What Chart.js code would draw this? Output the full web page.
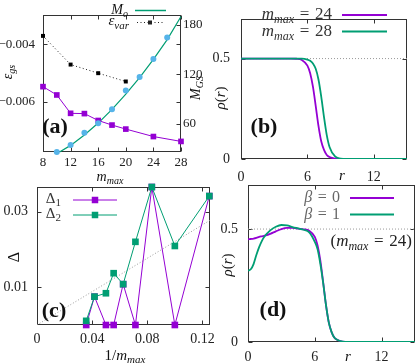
<!DOCTYPE html>
<html>
<head>
<meta charset="utf-8">
<script src="https://cdn.jsdelivr.net/npm/chart.js@4.4.0/dist/chart.umd.min.js"></script>
<style>
html, body { margin: 0; padding: 0; background: #fff; }
#wrap { position: relative; width: 415px; height: 364px; overflow: hidden; }
#wrap canvas { position: absolute; left: 0; top: 0; }
</style>
</head>
<body>
<div id="wrap">
<canvas id="ca" width="415" height="364"></canvas>
<canvas id="cb" width="415" height="364"></canvas>
<canvas id="cc" width="415" height="364"></canvas>
<canvas id="cd" width="415" height="364"></canvas>
</div>
<script>
// (a) energies and particle number vs m_max
var mA = [8, 10, 12, 14, 16, 18, 20, 24, 28];
var epsGs = [-0.00548, -0.00577, -0.00641, -0.00642, -0.00666, -0.00682, -0.00696, -0.00722, -0.00739];
var mVar = [8, 12, 16, 20];
var epsVar = [-0.00371, -0.00471, -0.00501, -0.0053];
var mGS = [10, 12, 14, 16, 18, 20, 22, 24, 26];
var MGS = [26, 34.4, 49.2, 60.8, 77.8, 100.5, 116.8, 138.5, 164.5];
var mFit = [10.4, 12, 14, 16, 18, 20, 22, 24, 26, 28];
var MoFit = [26, 34, 46.5, 61, 77.5, 96, 116, 138, 162, 190];
var ticksMA = [8, 12, 16, 20, 24, 28];
var ticksEps = [-0.004, -0.006];
var labelsEps = ['\u22120.004', '\u22120.006'];
var ticksM = [60, 120, 180];

// (b) density profiles
var rB = [0, 1, 2, 3, 4, 4.5, 5, 5.5, 6, 6.25, 6.5, 6.75, 7, 7.25, 7.5, 7.75, 8, 8.5, 9, 9.5, 10, 11, 12, 13, 14, 15];
var rho24 = [0.5, 0.5, 0.5, 0.5, 0.5, 0.5, 0.499, 0.493, 0.465, 0.427, 0.36, 0.265, 0.165, 0.088, 0.045, 0.02, 0.01, 0.002, 0, 0, 0, 0, 0, 0, 0, 0];
var rho28 = [0.5, 0.5, 0.5, 0.5, 0.5, 0.5, 0.5, 0.5, 0.495, 0.489, 0.476, 0.449, 0.396, 0.311, 0.209, 0.119, 0.06, 0.0125, 0.0024, 0, 0, 0, 0, 0, 0, 0];
var ticksR = [0, 6, 12];
var ticksRho = [0, 0.5];

// (c) gaps vs 1/m_max
var invM = [0.0357, 0.0417, 0.05, 0.0556, 0.0625, 0.0714, 0.0833, 0.1, 0.125];
var delta1 = [0, 0.0075, 0, 0, 0.0108, 0, 0.0365, 0, 0.0341];
var delta2 = [0.0011, 0.0075, 0.0084, 0.0137, 0.0108, 0.022, 0.0365, 0.0209, 0.0341];
var guideX = [0, 0.1255];
var guideY = [0, 0.0277];
var ticksInv = [0, 0.04, 0.08, 0.12];
var ticksDelta = [0.01, 0.03];

// (d) density profiles for beta = 0, 1
var rD = [0, 0.25, 0.5, 0.75, 1, 1.25, 1.5, 2, 2.5, 3, 3.5, 4, 4.5, 5, 5.5, 6, 6.25, 6.5, 6.75, 7, 7.25, 7.5, 7.75, 8, 8.5, 9, 10, 12, 15];
var rhoBeta0 = [0.454, 0.456, 0.458, 0.461, 0.465, 0.468, 0.471, 0.479, 0.49, 0.5, 0.505, 0.505, 0.502, 0.499, 0.492, 0.465, 0.427, 0.36, 0.265, 0.165, 0.088, 0.045, 0.02, 0.01, 0.002, 0, 0, 0, 0];
var rhoBeta1 = [0.315, 0.322, 0.345, 0.385, 0.42, 0.448, 0.468, 0.494, 0.51, 0.518, 0.516, 0.509, 0.503, 0.497, 0.485, 0.443, 0.41, 0.345, 0.262, 0.165, 0.088, 0.045, 0.02, 0.01, 0.002, 0, 0, 0, 0];

var PURPLE = '#9400d3', GREEN = '#009e73', CYAN = '#56b4e9';
var SERIF = '"Liberation Serif", "DejaVu Serif", serif';
var EQ = '\u2004=\u2004';

function pts(xs, ys) {
	return xs.map(function (x, i) { return { x: x, y: ys[i] }; });
}

function axis(pos, min, max, size, vals, labels, pad, fs) {
	return {
		type: 'linear', position: pos, min: min, max: max,
		grid: { display: false, drawTicks: false },
		border: { display: false },
		afterFit: function (s) { if (s.isHorizontal()) s.height = size; else s.width = size; },
		afterBuildTicks: function (s) { s.ticks = vals.map(function (v) { return { value: v }; }); },
		ticks: {
			autoSkip: false, padding: pad, color: '#222', maxRotation: 0,
			font: { family: SERIF, size: fs || 14 },
			callback: function (v, i) { return labels[i]; }
		}
	};
}

function fontFor(kind, size) {
	var sub = kind.charAt(0) === 's';
	var sz = sub ? Math.round(size * 0.7) : size;
	var st = (kind === 'i' || kind === 's') ? 'italic ' : (kind === 'b' ? 'bold ' : '');
	return st + sz + 'px ' + SERIF;
}

function drawMath(ctx, t) {
	var size = t.size || 14;
	ctx.save();
	ctx.translate(t.x, t.y);
	if (t.rot) ctx.rotate(t.rot);
	var w = 0;
	t.parts.forEach(function (p) { ctx.font = fontFor(p[1], size); w += ctx.measureText(p[0]).width; });
	var x = t.align === 'left' ? 0 : (t.align === 'right' ? -w : -w / 2);
	ctx.textBaseline = 'middle';
	ctx.textAlign = 'left';
	ctx.fillStyle = t.color || '#111';
	t.parts.forEach(function (p) {
		ctx.font = fontFor(p[1], size);
		var dy = p[1].charAt(0) === 's' ? size * 0.3 : 0;
		ctx.fillText(p[0], x, dy);
		x += ctx.measureText(p[0]).width;
	});
	ctx.restore();
}

function legendLine(ctx, l) {
	ctx.save();
	ctx.strokeStyle = l.color;
	ctx.lineWidth = l.width || 1;
	if (l.dash) ctx.setLineDash(l.dash);
	ctx.beginPath();
	ctx.moveTo(l.x1, l.y);
	ctx.lineTo(l.x2, l.y);
	ctx.stroke();
	ctx.setLineDash([]);
	if (l.mark) {
		ctx.fillStyle = l.color;
		ctx.fillRect(l.mark - l.ms / 2, l.y - l.ms / 2, l.ms, l.ms);
	}
	ctx.restore();
}

// frame with inward tick marks, then the panel texts and legend keys
function deco(spec) {
	return {
		id: 'deco',
		beforeDatasetsDraw: function (chart) {
			var ctx = chart.ctx, a = chart.chartArea, tl = 4;
			var L = Math.floor(a.left) + 0.5, R = Math.ceil(a.right) - 0.5;
			var T = Math.floor(a.top) + 0.5, B = Math.ceil(a.bottom) - 0.5;
			ctx.save();
			ctx.strokeStyle = '#333';
			ctx.lineWidth = 1;
			ctx.beginPath();
			var sx = chart.scales.x, sy = chart.scales.y;
			sx.ticks.forEach(function (t) {
				var p = Math.round(sx.getPixelForValue(t.value)) + 0.5;
				ctx.moveTo(p, B); ctx.lineTo(p, B - tl);
				ctx.moveTo(p, T); ctx.lineTo(p, T + tl);
			});
			sy.ticks.forEach(function (t) {
				var p = Math.round(sy.getPixelForValue(t.value)) + 0.5;
				ctx.moveTo(L, p); ctx.lineTo(L + tl, p);
				ctx.moveTo(R, p); ctx.lineTo(R - tl, p);
			});
			if (chart.scales.y2) {
				chart.scales.y2.ticks.forEach(function (t) {
					var p = Math.round(chart.scales.y2.getPixelForValue(t.value)) + 0.5;
					ctx.moveTo(R, p); ctx.lineTo(R - tl, p);
				});
			}
			ctx.stroke();
			ctx.strokeRect(L, T, R - L, B - T);
			ctx.restore();
		},
		afterDraw: function (chart) {
			var ctx = chart.ctx;
			(spec.keys || []).forEach(function (k) { legendLine(ctx, k); });
			(spec.texts || []).forEach(function (t) { drawMath(ctx, t); });
		}
	};
}

Chart.defaults.font.family = SERIF;

function base(pad) {
	return {
		responsive: false, animation: false, devicePixelRatio: 1,
		layout: { padding: pad, autoPadding: false },
		plugins: { legend: { display: false }, tooltip: { enabled: false } }
	};
}

// panel (a)
var optA = base({ top: 0, left: 0, right: 0, bottom: 0 });
optA.scales = {
	x: axis('bottom', 8, 28, 212, ticksMA, ticksMA.map(String), 3, 13),
	y: axis('left', -0.007759, -0.003009, 43, ticksEps, labelsEps, 8, 13),
	y2: axis('right', 26, 190.8, 234, ticksM, ticksM.map(String), 2, 13)
};
new Chart(document.getElementById('ca'), {
	type: 'line',
	data: {
		datasets: [
			{ data: pts(mFit, MoFit), yAxisID: 'y2', borderColor: GREEN, borderWidth: 1.2, pointRadius: 0, clip: false, order: 4 },
			{ data: pts(mVar, epsVar), yAxisID: 'y', borderColor: '#222', borderWidth: 1, borderDash: [1, 2.5],
				pointStyle: 'rect', pointRadius: 2.8, pointBackgroundColor: '#000', pointBorderWidth: 0, clip: false, order: 3 },
			{ data: pts(mA, epsGs), yAxisID: 'y', borderColor: PURPLE, borderWidth: 1,
				pointStyle: 'rect', pointRadius: 4, pointBackgroundColor: PURPLE, pointBorderWidth: 0, clip: false, order: 2 },
			{ data: pts(mGS, MGS), yAxisID: 'y2', showLine: false,
				pointStyle: 'circle', pointRadius: 3, pointBackgroundColor: CYAN, pointBorderWidth: 0, clip: false, order: 1 }
		]
	},
	options: optA,
	plugins: [deco({
		keys: [
			{ x1: 135, x2: 166, y: 10.5, color: GREEN, width: 1.5 },
			{ x1: 137, x2: 163, y: 22.5, color: '#222', width: 1, dash: [1, 2.5], mark: 150, ms: 4 }
		],
		texts: [
			{ x: 128, y: 10.5, align: 'right', size: 14, parts: [['M', 'i'], ['o', 's']] },
			{ x: 129, y: 21.5, align: 'right', size: 15, parts: [['\u03b5', 'i'], ['var', 's']] },
			{ x: 55, y: 127, size: 22, parts: [['(a)', 'b']] },
			{ x: 8, y: 72, rot: -Math.PI / 2, parts: [['\u03b5', 'i'], ['gs', 's']] },
			{ x: 196, y: 88, rot: -Math.PI / 2, parts: [['M', 'i'], ['GS', 's']] },
			{ x: 110, y: 177, parts: [['m', 'i'], ['max', 's']] }
		]
	})]
});

// panel (b)
var optB = base({ top: 3, left: 0, right: 8, bottom: 0 });
optB.scales = {
	x: axis('bottom', 0, 15, 205, ticksR, ['0', '6', '12'], 10),
	y: axis('left', 0, 0.695, 241, ticksRho, ['0', '0.5'], 11)
};
new Chart(document.getElementById('cb'), {
	type: 'line',
	data: {
		datasets: [
			{ data: pts(rB, rho28), borderColor: GREEN, borderWidth: 1.8, pointRadius: 0, cubicInterpolationMode: 'monotone', order: 1 },
			{ data: pts(rB, rho24), borderColor: PURPLE, borderWidth: 1.8, pointRadius: 0, cubicInterpolationMode: 'monotone', order: 2 },
			{ data: pts([0, 15], [0.5, 0.5]), borderColor: '#999', borderWidth: 1, borderDash: [1, 2], pointRadius: 0, order: 3 }
		]
	},
	options: optB,
	plugins: [deco({
		keys: [
			{ x1: 342, x2: 387, y: 15, color: PURPLE, width: 2 },
			{ x1: 342, x2: 387, y: 31.5, color: GREEN, width: 2 }
		],
		texts: [
			{ x: 332, y: 15, align: 'right', size: 17, color: '#333', parts: [['m', 'i'], ['max', 's'], [EQ + '24', 'r']] },
			{ x: 332, y: 31.5, align: 'right', size: 17, color: '#333', parts: [['m', 'i'], ['max', 's'], [EQ + '28', 'r']] },
			{ x: 264, y: 127, size: 22, parts: [['(b)', 'b']] },
			{ x: 221, y: 98, rot: -Math.PI / 2, size: 15, parts: [['\u03c1', 'i'], ['(', 'r'], ['r', 'i'], [')', 'r']] },
			{ x: 342, y: 176, size: 15, parts: [['r', 'i']] }
		]
	})]
});

// panel (c)
var optC = base({ top: 187, left: 0, right: 205, bottom: 0 });
optC.scales = {
	x: axis('bottom', 0, 0.1255, 39, ticksInv, ['0', '0.04', '0.08', '0.12'], 6),
	y: axis('left', 0, 0.0365, 37, ticksDelta, ['0.01', '0.03'], 9)
};
new Chart(document.getElementById('cc'), {
	type: 'line',
	data: {
		datasets: [
			{ data: pts(invM, delta2), borderColor: GREEN, borderWidth: 1,
				pointStyle: 'rect', pointRadius: 4.7, pointBackgroundColor: GREEN, pointBorderWidth: 0, clip: false, order: 1 },
			{ data: pts(invM, delta1), borderColor: PURPLE, borderWidth: 1,
				pointStyle: 'rect', pointRadius: 4.7, pointBackgroundColor: PURPLE, pointBorderWidth: 0, clip: false, order: 2 },
			{ data: pts(guideX, guideY), borderColor: '#999', borderWidth: 1, borderDash: [1, 2], pointRadius: 0, order: 3 }
		]
	},
	options: optC,
	plugins: [deco({
		keys: [
			{ x1: 73, x2: 117, y: 200, color: PURPLE, width: 1, mark: 95, ms: 6.5 },
			{ x1: 73, x2: 117, y: 215, color: GREEN, width: 1, mark: 95, ms: 6.5 }
		],
		texts: [
			{ x: 61, y: 199, align: 'right', size: 15, color: '#333', parts: [['\u0394', 'r'], ['1', 'sr']] },
			{ x: 61, y: 214, align: 'right', size: 15, color: '#333', parts: [['\u0394', 'r'], ['2', 'sr']] },
			{ x: 54, y: 311, size: 22, parts: [['(c)', 'b']] },
			{ x: 15, y: 257, rot: -Math.PI / 2, size: 16, parts: [['\u0394', 'r']] },
			{ x: 125, y: 356, size: 15, parts: [['1/', 'r'], ['m', 'i'], ['max', 's']] }
		]
	})]
});

// panel (d)
var optD = base({ top: 185, left: 0, right: 0, bottom: 0 });
optD.scales = {
	x: axis('bottom', 0, 15, 22, ticksR, ['0', '6', '12'], 7),
	y: axis('left', 0, 0.695, 248, ticksRho, ['0', '0.5'], 10)
};
new Chart(document.getElementById('cd'), {
	type: 'line',
	data: {
		datasets: [
			{ data: pts(rD, rhoBeta1), borderColor: GREEN, borderWidth: 1.8, pointRadius: 0, cubicInterpolationMode: 'monotone', order: 1 },
			{ data: pts(rD, rhoBeta0), borderColor: PURPLE, borderWidth: 1.8, pointRadius: 0, cubicInterpolationMode: 'monotone', order: 2 },
			{ data: pts([0, 15], [0.5, 0.5]), borderColor: '#999', borderWidth: 1, borderDash: [1, 2], pointRadius: 0, order: 3 }
		]
	},
	options: optD,
	plugins: [deco({
		keys: [
			{ x1: 350, x2: 394, y: 198, color: PURPLE, width: 2 },
			{ x1: 350, x2: 394, y: 214.5, color: GREEN, width: 2 }
		],
		texts: [
			{ x: 340, y: 198, align: 'right', size: 16, color: '#666', parts: [['\u03b2', 'i'], [EQ + '0', 'r']] },
			{ x: 340, y: 214.5, align: 'right', size: 16, color: '#666', parts: [['\u03b2', 'i'], [EQ + '1', 'r']] },
			{ x: 412, y: 242, align: 'right', size: 17, color: '#222', parts: [['(', 'r'], ['m', 'i'], ['max', 's'], [EQ + '24)', 'r']] },
			{ x: 273, y: 310, size: 22, parts: [['(d)', 'b']] },
			{ x: 228, y: 265, rot: -Math.PI / 2, size: 15, parts: [['\u03c1', 'i'], ['(', 'r'], ['r', 'i'], [')', 'r']] },
			{ x: 348, y: 357, size: 15, parts: [['r', 'i']] }
		]
	})]
});
</script>
</body>
</html>
